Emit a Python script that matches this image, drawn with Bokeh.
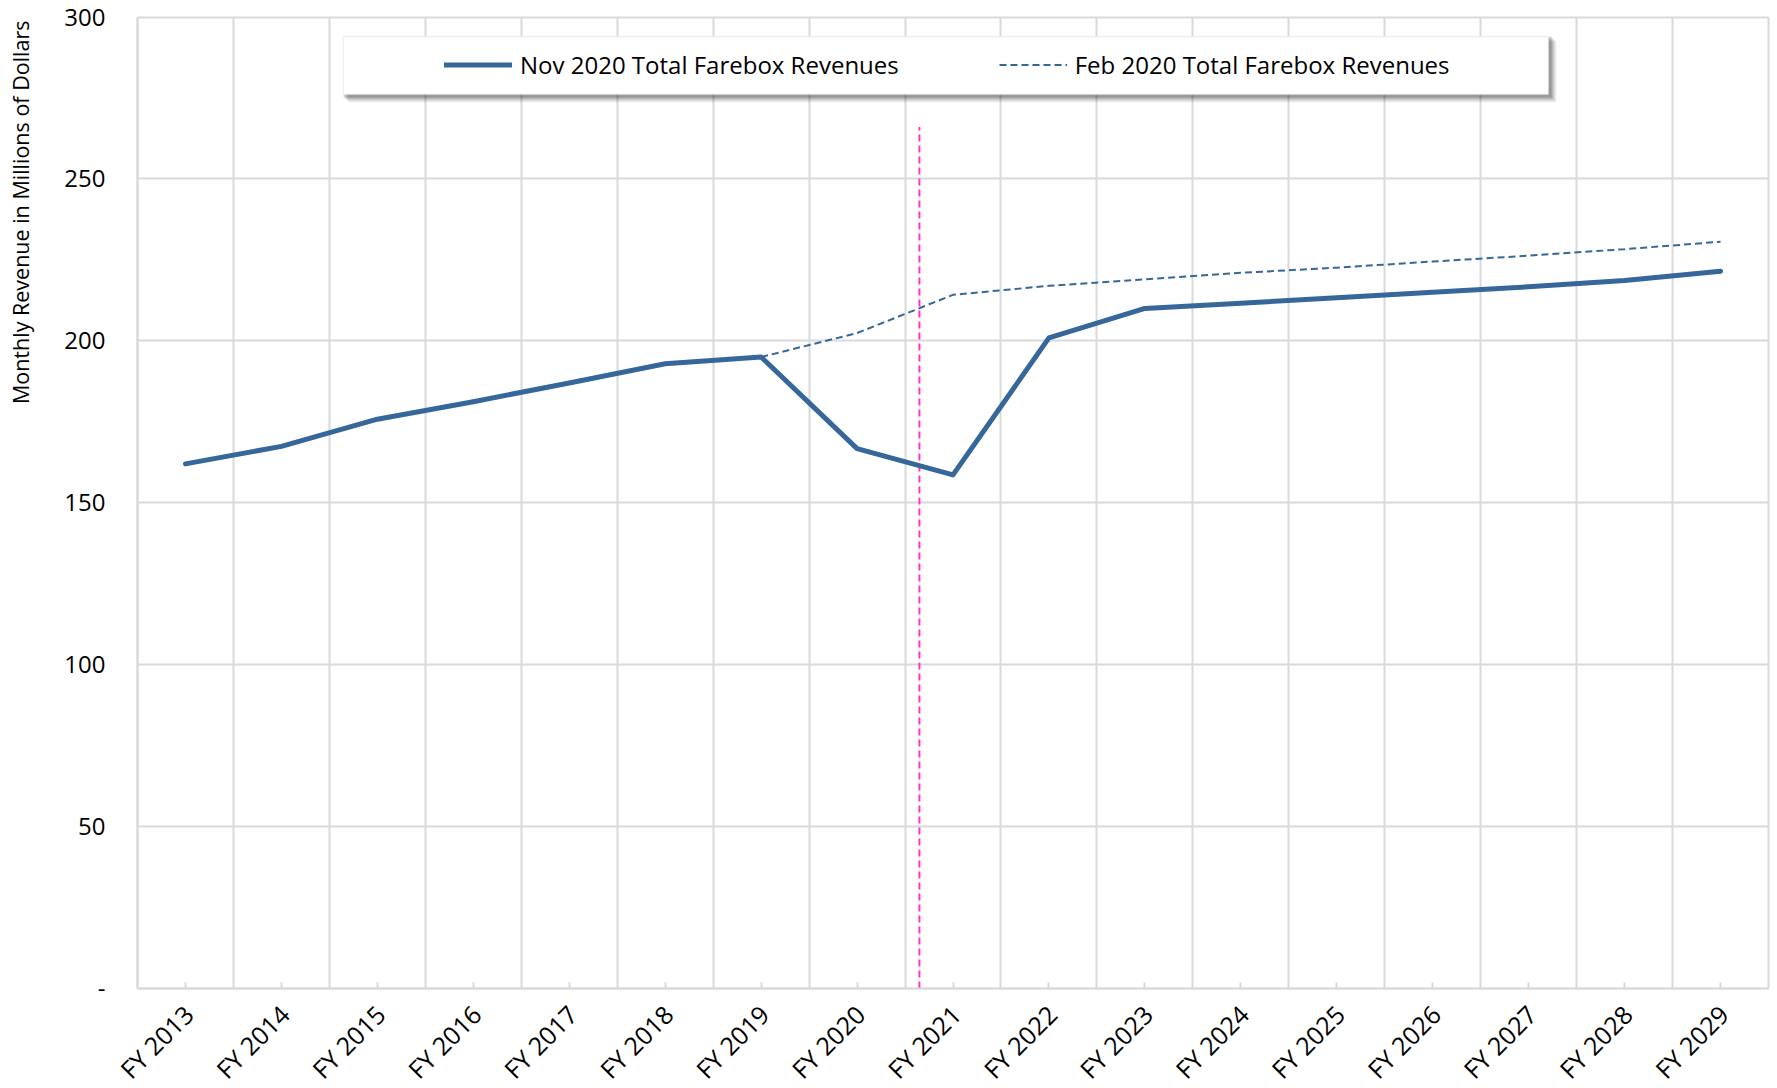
import math
from bokeh.plotting import figure
from bokeh.models import (Range1d, FixedTicker, Legend, LegendItem, BoxAnnotation,
                          ColumnDataSource, Grid)
from bokeh.core.properties import value
from bokeh.embed import file_html
from bokeh.resources import INLINE

# ---------------- data ----------------
fiscal_years = ["FY 2013", "FY 2014", "FY 2015", "FY 2016", "FY 2017", "FY 2018",
                "FY 2019", "FY 2020", "FY 2021", "FY 2022", "FY 2023", "FY 2024",
                "FY 2025", "FY 2026", "FY 2027", "FY 2028", "FY 2029"]
nov_2020_revenue = [162.0, 167.4, 175.8, 181.2, 187.0, 192.9, 195.0, 166.7, 158.6,
                    200.9, 210.0, 211.6, 213.3, 215.0, 216.7, 218.6, 221.5]
feb_2020_revenue = [None, None, None, None, None, None, 195.0, 202.4, 214.2,
                    217.0, 219.0, 221.0, 222.6, 224.5, 226.3, 228.3, 230.6]
y_ticks = [0, 50, 100, 150, 200, 250, 300]
y_tick_labels = ["-", "50", "100", "150", "200", "250", "300"]
y_title = "Monthly Revenue in Millions of Dollars"
legend_labels = ["Nov 2020 Total Farebox Revenues", "Feb 2020 Total Farebox Revenues"]
marker_x = 7.65        # dashed reference line between FY 2020 and FY 2021
marker_top = 266.0

n = len(fiscal_years)
x_idx = list(range(n))
feb_vals = [float("nan") if v is None else v for v in feb_2020_revenue]
X0, X1 = -0.5, n - 0.5      # category band edges
Y0, Y1 = 0.0, 300.0

FONT = "Open Sans"
BLUE = "#35679A"
GRID = "#D9D9D9"

# ---------------- layout (pixels) ----------------
W, H = 1777, 1088
PX_LEFT, PX_RIGHT = 137.0, 1768.0     # pixel x of X0 / X1
PX_TOP, PX_BOTTOM = 16.5, 988.0       # pixel y of Y1 / Y0
ux = (X1 - X0) / (PX_RIGHT - PX_LEFT)
uy = (Y1 - Y0) / (PX_BOTTOM - PX_TOP)
x_min, x_max = X0 - PX_LEFT * ux, X1 + (W - PX_RIGHT) * ux
y_min, y_max = Y0 - (H - PX_BOTTOM) * uy, Y1 + PX_TOP * uy

def dx(px):  # pixel x -> data x
    return x_min + px * ux

def dy(py):  # pixel y -> data y
    return y_max - py * uy

p = figure(width=W, height=H, output_backend="svg", toolbar_location=None,
           x_range=Range1d(x_min, x_max), y_range=Range1d(y_min, y_max),
           min_border=0, min_border_left=0, min_border_right=0,
           min_border_top=0, min_border_bottom=0)
p.title.text = ""
p.outline_line_color = None
p.background_fill_color = "white"
p.border_fill_color = "white"

# ---------------- grids ----------------
cat_edges = [X0 + i for i in range(n + 1)]
p.xgrid.ticker = FixedTicker(ticks=cat_edges)
p.ygrid.ticker = FixedTicker(ticks=y_ticks)
if "cross_bounds" in Grid.properties():
    p.xgrid.cross_bounds = (Y0, Y1)
    p.ygrid.cross_bounds = (X0, X1)
    for g in (p.xgrid, p.ygrid):
        g.grid_line_color = GRID
        g.grid_line_width = 2
else:
    p.xgrid.visible = False
    p.ygrid.visible = False
    p.segment(x0=cat_edges, y0=[Y0] * len(cat_edges), x1=cat_edges,
              y1=[Y1] * len(cat_edges), line_color=GRID, line_width=2, level="underlay")
    p.segment(x0=[X0] * len(y_ticks), y0=y_ticks, x1=[X1] * len(y_ticks),
              y1=y_ticks, line_color=GRID, line_width=2, level="underlay")

# ---------------- x axis at value 0 ----------------
p.xaxis.fixed_location = 0
p.xaxis.bounds = (X0, X1)
p.xaxis.ticker = FixedTicker(ticks=x_idx)
p.xaxis.major_label_overrides = {i: "" for i in x_idx}
p.xaxis.major_label_text_font_size = "1px"
p.xaxis.axis_line_color = GRID
p.xaxis.axis_line_width = 2
p.xaxis.major_tick_line_color = GRID
p.xaxis.major_tick_line_width = 2
p.xaxis.major_tick_in = 6
p.xaxis.major_tick_out = 0
p.xaxis.minor_tick_line_color = None

lbl_src = ColumnDataSource(dict(x=x_idx, y=[0] * n, text=fiscal_years))
p.text(x="x", y="y", text="text", source=lbl_src, angle=math.pi / 4,
       text_align="right", text_baseline="middle", x_offset=3, y_offset=21,
       text_font=value(FONT), text_font_size=value("25px"), text_color="#000000")

# ---------------- y axis at the left band edge ----------------
p.yaxis.fixed_location = X0
p.yaxis.bounds = (Y0, Y1)
p.yaxis.ticker = FixedTicker(ticks=y_ticks)
p.yaxis.major_label_overrides = {t: s for t, s in zip(y_ticks, y_tick_labels)}
p.yaxis.major_label_text_font = FONT
p.yaxis.major_label_text_font_size = "24px"
p.yaxis.major_label_text_color = "#000000"
p.yaxis.axis_line_color = GRID
p.yaxis.axis_line_width = 2
p.yaxis.major_tick_line_color = None
p.yaxis.minor_tick_line_color = None
p.yaxis.major_tick_out = 0
p.yaxis.major_tick_in = 0
p.yaxis.major_label_standoff = 32

# y-axis title, top-aligned like the original
p.text(x=[dx(20.0)], y=[dy(20.0)], text=[y_title], angle=math.pi / 2,
       text_align="right", text_baseline="middle",
       text_font=value(FONT), text_font_size=value("21.5px"), text_color="#000000")

# ---------------- reference line ----------------
p.segment(x0=[marker_x], y0=[0], x1=[marker_x], y1=[marker_top],
          line_color="#FF33CC", line_width=2, line_dash="7 4")

# ---------------- series ----------------
src = ColumnDataSource(dict(x=x_idx, nov=nov_2020_revenue, feb=feb_vals))
r_feb = p.line("x", "feb", source=src, line_color=BLUE, line_width=2, line_dash="7 4")
r_nov = p.line("x", "nov", source=src, line_color=BLUE, line_width=5,
               line_join="round", line_cap="round")

# ---------------- legend box with soft shadow ----------------
bl, br, bt, bb = 343.0, 1548.0, 36.0, 94.0     # pixel box of the legend
for k, a in [(7, 0.05), (6, 0.06), (5, 0.07), (4, 0.08), (3, 0.10), (2, 0.12)]:
    p.add_layout(BoxAnnotation(left=dx(bl + k - 2), right=dx(br + k + 1),
                               top=dy(bt + k - 2), bottom=dy(bb + k + 1),
                               fill_color="#000000", fill_alpha=a, line_color=None,
                               level="overlay"))
p.add_layout(BoxAnnotation(left=dx(bl), right=dx(br), top=dy(bt), bottom=dy(bb),
                           fill_color="white", fill_alpha=1.0,
                           line_color="#D9D9D9", line_width=1.5, level="overlay"))

legend = Legend(items=[LegendItem(label=legend_labels[0], renderers=[r_nov]),
                       LegendItem(label=legend_labels[1], renderers=[r_feb])],
                orientation="horizontal", location=(444, H - 81),
                glyph_width=68, glyph_height=25, label_height=25,
                label_standoff=8, spacing=100, padding=0, margin=0,
                border_line_alpha=0, background_fill_alpha=0,
                label_text_font=FONT, label_text_font_size="24px",
                label_text_color="#000000", label_text_baseline="middle")
p.add_layout(legend)

open("out.html", "w").write(file_html(p, INLINE))
